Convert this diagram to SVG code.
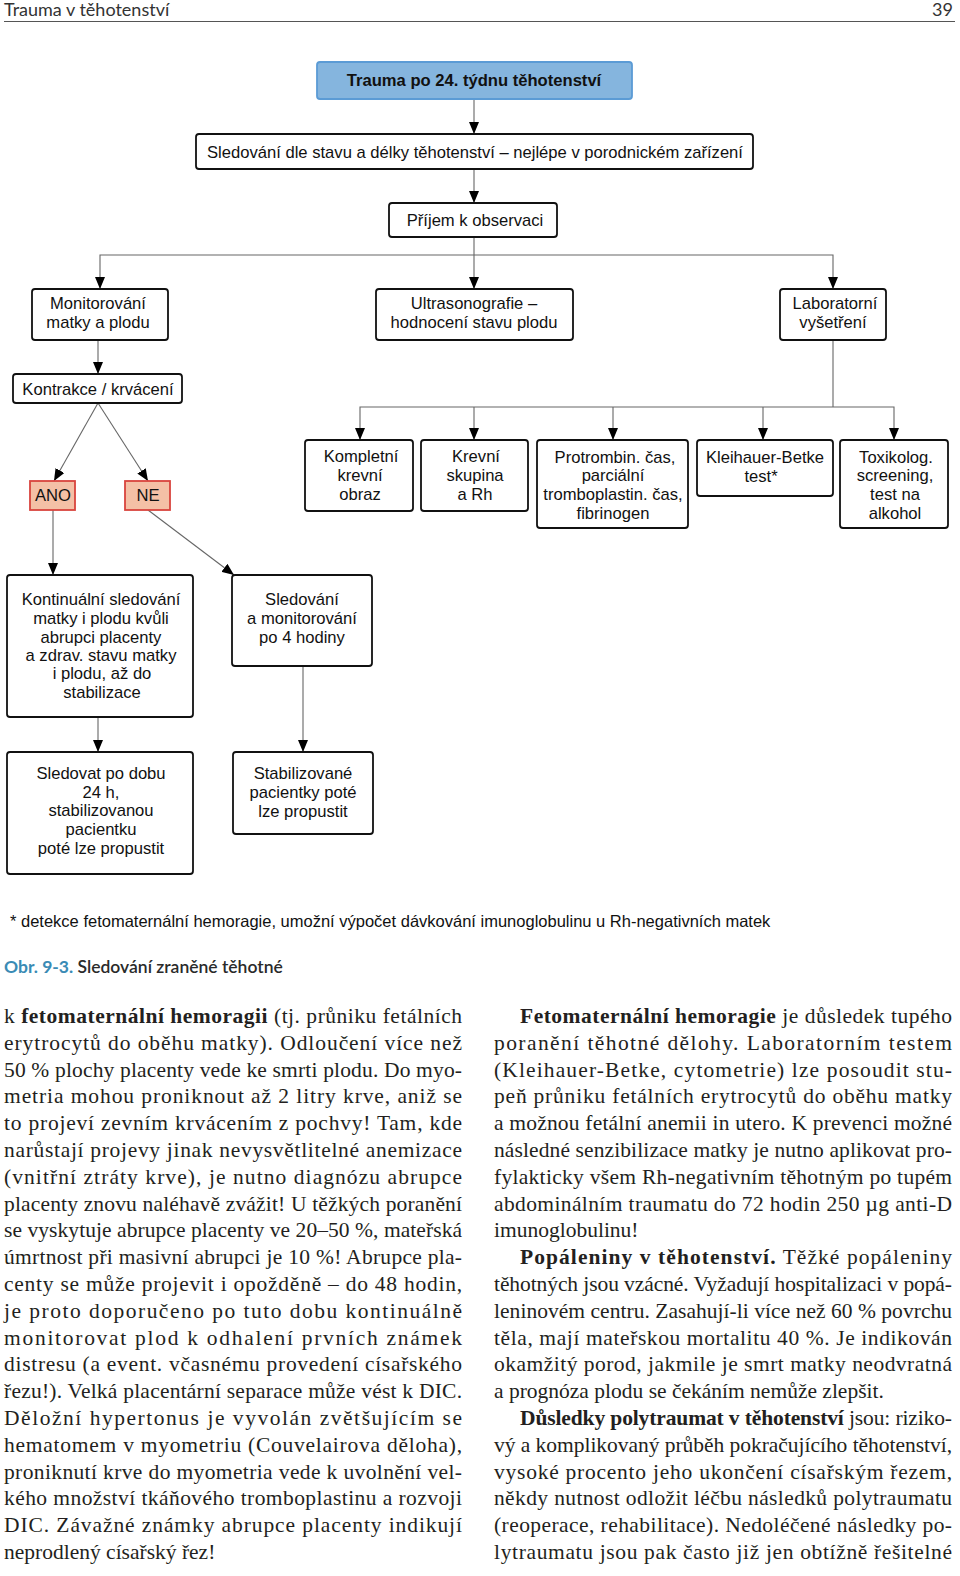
<svg xmlns="http://www.w3.org/2000/svg" width="960" height="1576" viewBox="0 0 960 1576">
<defs>
<marker id="arr" viewBox="0 0 12 10" refX="12" refY="5" markerWidth="12" markerHeight="10" markerUnits="userSpaceOnUse" orient="auto">
<path d="M0,0 L12,5 L0,10 z" fill="#000"/>
</marker>
<style>
.box{fill:#fff;stroke:#111;stroke-width:1.8}
.title{fill:#85b5de;stroke:#5b9bd5;stroke-width:1.8}
.red{fill:#f4c0a6;stroke:#d9443e;stroke-width:1.8}
.t{font-family:"Liberation Sans",Arial,sans-serif;font-size:16.6px;fill:#111;text-anchor:middle}
.tb{font-weight:bold}
.c{fill:none;stroke:#666;stroke-width:1.1}
.a{marker-end:url(#arr)}
.body{font-family:"Liberation Serif","Times New Roman",serif;font-size:21.5px;fill:#231f20}
.hd{font-family:Lato,"Open Sans",sans-serif;font-size:18px;fill:#333}
</style>
</defs>
<rect width="960" height="1576" fill="#fff"/>

<g id="header">
<text class="hd" x="4" y="16">Trauma v těhotenství</text>
<text class="hd" x="953" y="16" text-anchor="end">39</text>
<line x1="4" y1="21.5" x2="955" y2="21.5" stroke="#555" stroke-width="1"/>
</g>

<g id="connectors">
<line class="c a" x1="474" y1="99" x2="474" y2="134"/>
<line class="c a" x1="474" y1="169" x2="474" y2="203"/>
<line class="c a" x1="474" y1="237" x2="474" y2="289"/>
<polyline class="c a" points="474,255 100,255 100,289"/>
<polyline class="c a" points="474,255 833,255 833,289"/>
<line class="c a" x1="98" y1="340" x2="98" y2="374"/>
<line class="c a" x1="98" y1="403" x2="54" y2="481"/>
<line class="c a" x1="98" y1="403" x2="148" y2="481"/>
<line class="c" x1="833" y1="340" x2="833" y2="407"/>
<polyline class="c a" points="833,407 360,407 360,440"/>
<line class="c a" x1="474" y1="407" x2="474" y2="440"/>
<line class="c a" x1="613" y1="407" x2="613" y2="440"/>
<line class="c a" x1="763" y1="407" x2="763" y2="440"/>
<polyline class="c a" points="833,407 894,407 894,440"/>
<line class="c a" x1="53" y1="510" x2="53" y2="575"/>
<line class="c a" x1="148" y1="510" x2="234" y2="575"/>
<line class="c a" x1="98" y1="717" x2="98" y2="752"/>
<line class="c a" x1="303" y1="666" x2="303" y2="752"/>
</g>

<g id="n-trauma">
<rect class="title" x="317" y="62" width="315" height="37" rx="3"/>
<text class="t tb" x="474" y="86">Trauma po 24. týdnu těhotenství</text>
</g>
<g id="n-sledovani">
<rect class="box" x="196" y="134" width="557" height="35" rx="3"/>
<text class="t" x="475" y="158">Sledování dle stavu a délky těhotenství – nejlépe v porodnickém zařízení</text>
</g>
<g id="n-prijem">
<rect class="box" x="389" y="203" width="168" height="34" rx="3"/>
<text class="t" x="475" y="226">Příjem k observaci</text>
</g>
<g id="n-monitorovani">
<rect class="box" x="32" y="289" width="136" height="51" rx="3"/>
<text class="t" x="98" y="309">Monitorování</text>
<text class="t" x="98" y="328">matky a plodu</text>
</g>
<g id="n-ultrasono">
<rect class="box" x="376" y="289" width="197" height="51" rx="3"/>
<text class="t" x="474" y="309">Ultrasonografie –</text>
<text class="t" x="474" y="328">hodnocení stavu plodu</text>
</g>
<g id="n-lab">
<rect class="box" x="780" y="289" width="106" height="51" rx="3"/>
<text class="t" x="835" y="309">Laboratorní</text>
<text class="t" x="833" y="328">vyšetření</text>
</g>
<g id="n-kontrakce">
<rect class="box" x="13" y="374" width="169" height="29" rx="3"/>
<text class="t" x="98" y="395">Kontrakce / krvácení</text>
</g>
<g id="n-ano">
<rect class="red" x="30" y="481" width="45" height="29"/>
<text class="t" x="53" y="501">ANO</text>
</g>
<g id="n-ne">
<rect class="red" x="125" y="481" width="45" height="29"/>
<text class="t" x="148" y="501">NE</text>
</g>
<g id="n-kompletni">
<rect class="box" x="305" y="440" width="108" height="71" rx="3"/>
<text class="t" x="361" y="462">Kompletní</text>
<text class="t" x="360" y="481">krevní</text>
<text class="t" x="360" y="500">obraz</text>
</g>
<g id="n-krevni">
<rect class="box" x="421" y="440" width="107" height="71" rx="3"/>
<text class="t" x="476" y="462">Krevní</text>
<text class="t" x="475" y="481">skupina</text>
<text class="t" x="475" y="500">a Rh</text>
</g>
<g id="n-protrombin">
<rect class="box" x="537" y="440" width="151" height="88" rx="3"/>
<text class="t" x="615" y="463">Protrombin. čas,</text>
<text class="t" x="613" y="481">parciální</text>
<text class="t" x="613" y="500">tromboplastin. čas,</text>
<text class="t" x="613" y="519">fibrinogen</text>
</g>
<g id="n-kleihauer">
<rect class="box" x="697" y="440" width="136" height="56" rx="3"/>
<text class="t" x="765" y="463">Kleihauer-Betke</text>
<text class="t" x="761" y="482">test*</text>
</g>
<g id="n-toxikolog">
<rect class="box" x="840" y="440" width="108" height="88" rx="3"/>
<text class="t" x="896" y="463">Toxikolog.</text>
<text class="t" x="895" y="481">screening,</text>
<text class="t" x="895" y="500">test na</text>
<text class="t" x="895" y="519">alkohol</text>
</g>
<g id="n-kontinualni">
<rect class="box" x="7" y="575" width="186" height="142" rx="3"/>
<text class="t" x="101" y="605">Kontinuální sledování</text>
<text class="t" x="101" y="624">matky i plodu kvůli</text>
<text class="t" x="101" y="643">abrupci placenty</text>
<text class="t" x="101" y="661">a zdrav. stavu matky</text>
<text class="t" x="102" y="679">i plodu, až do</text>
<text class="t" x="102" y="698">stabilizace</text>
</g>
<g id="n-sled4">
<rect class="box" x="232" y="575" width="140" height="91" rx="3"/>
<text class="t" x="302" y="605">Sledování</text>
<text class="t" x="302" y="624">a monitorování</text>
<text class="t" x="302" y="643">po 4 hodiny</text>
</g>
<g id="n-sledovat24">
<rect class="box" x="7" y="752" width="186" height="122" rx="3"/>
<text class="t" x="101" y="779">Sledovat po dobu</text>
<text class="t" x="101" y="798">24 h,</text>
<text class="t" x="101" y="816">stabilizovanou</text>
<text class="t" x="101" y="835">pacientku</text>
<text class="t" x="101" y="854">poté lze propustit</text>
</g>
<g id="n-stabilizovane">
<rect class="box" x="233" y="752" width="140" height="82" rx="3"/>
<text class="t" x="303" y="779">Stabilizované</text>
<text class="t" x="303" y="798">pacientky poté</text>
<text class="t" x="303" y="817">lze propustit</text>
</g>

<g id="footnote">
<text font-family="Liberation Sans, Arial, sans-serif" font-size="16.5" fill="#111" x="10" y="927">* detekce fetomaternální hemoragie, umožní výpočet dávkování imunoglobulinu u Rh-negativních matek</text>
</g>
<g id="caption">
<text font-family="Lato, 'Open Sans', sans-serif" font-size="17.5" x="4" y="973"><tspan fill="#3a8bb5" font-weight="bold">Obr. 9-3.</tspan><tspan fill="#2a2a2a" font-weight="600"> Sledování zraněné těhotné</tspan></text>
</g>

<g id="text-left" class="body">
<text x="4" y="1023" textLength="458" lengthAdjust="spacing">k <tspan font-weight="bold">fetomaternální hemoragii</tspan> (tj. průniku fetálních</text>
<text x="4" y="1049.8" textLength="458" lengthAdjust="spacing">erytrocytů do oběhu matky). Odloučení více než</text>
<text x="4" y="1076.6" textLength="458" lengthAdjust="spacing">50 % plochy placenty vede ke smrti plodu. Do myo-</text>
<text x="4" y="1103.4" textLength="458" lengthAdjust="spacing">metria mohou proniknout až 2 litry krve, aniž se</text>
<text x="4" y="1130.2" textLength="458" lengthAdjust="spacing">to projeví zevním krvácením z pochvy! Tam, kde</text>
<text x="4" y="1157" textLength="458" lengthAdjust="spacing">narůstají projevy jinak nevysvětlitelné anemizace</text>
<text x="4" y="1183.8" textLength="458" lengthAdjust="spacing">(vnitřní ztráty krve), je nutno diagnózu abrupce</text>
<text x="4" y="1210.6" textLength="458" lengthAdjust="spacing">placenty znovu naléhavě zvážit! U těžkých poranění</text>
<text x="4" y="1237.4" textLength="458" lengthAdjust="spacing">se vyskytuje abrupce placenty ve 20–50 %, mateřská</text>
<text x="4" y="1264.2" textLength="458" lengthAdjust="spacing">úmrtnost při masivní abrupci je 10 %! Abrupce pla-</text>
<text x="4" y="1291" textLength="458" lengthAdjust="spacing">centy se může projevit i opožděně – do 48 hodin,</text>
<text x="4" y="1317.8" textLength="458" lengthAdjust="spacing">je proto doporučeno po tuto dobu kontinuálně</text>
<text x="4" y="1344.6" textLength="458" lengthAdjust="spacing">monitorovat plod k odhalení prvních známek</text>
<text x="4" y="1371.4" textLength="458" lengthAdjust="spacing">distresu (a event. včasnému provedení císařského</text>
<text x="4" y="1398.2" textLength="458" lengthAdjust="spacing">řezu!). Velká placentární separace může vést k DIC.</text>
<text x="4" y="1425" textLength="458" lengthAdjust="spacing">Děložní hypertonus je vyvolán zvětšujícím se</text>
<text x="4" y="1451.8" textLength="458" lengthAdjust="spacing">hematomem v myometriu (Couvelairova děloha),</text>
<text x="4" y="1478.6" textLength="458" lengthAdjust="spacing">proniknutí krve do myometria vede k uvolnění vel-</text>
<text x="4" y="1505.4" textLength="458" lengthAdjust="spacing">kého množství tkáňového tromboplastinu a rozvoji</text>
<text x="4" y="1532.2" textLength="458" lengthAdjust="spacing">DIC. Závažné známky abrupce placenty indikují</text>
<text x="4" y="1559">neprodlený císařský řez!</text>
</g>

<g id="text-right" class="body">
<text x="520" y="1023" textLength="432" lengthAdjust="spacing"><tspan font-weight="bold">Fetomaternální hemoragie</tspan> je důsledek tupého</text>
<text x="494" y="1049.8" textLength="458" lengthAdjust="spacing">poranění těhotné dělohy. Laboratorním testem</text>
<text x="494" y="1076.6" textLength="458" lengthAdjust="spacing">(Kleihauer-Betke, cytometrie) lze posoudit stu-</text>
<text x="494" y="1103.4" textLength="458" lengthAdjust="spacing">peň průniku fetálních erytrocytů do oběhu matky</text>
<text x="494" y="1130.2" textLength="458" lengthAdjust="spacing">a možnou fetální anemii in utero. K prevenci možné</text>
<text x="494" y="1157" textLength="458" lengthAdjust="spacing">následné senzibilizace matky je nutno aplikovat pro-</text>
<text x="494" y="1183.8" textLength="458" lengthAdjust="spacing">fylakticky všem Rh-negativním těhotným po tupém</text>
<text x="494" y="1210.6" textLength="458" lengthAdjust="spacing">abdominálním traumatu do 72 hodin 250 µg anti-D</text>
<text x="494" y="1237.4">imunoglobulinu!</text>
<text x="520" y="1264.2" textLength="432" lengthAdjust="spacing"><tspan font-weight="bold">Popáleniny v těhotenství.</tspan> Těžké popáleniny</text>
<text x="494" y="1291" textLength="458" lengthAdjust="spacing">těhotných jsou vzácné. Vyžadují hospitalizaci v popá-</text>
<text x="494" y="1317.8" textLength="458" lengthAdjust="spacing">leninovém centru. Zasahují-li více než 60 % povrchu</text>
<text x="494" y="1344.6" textLength="458" lengthAdjust="spacing">těla, mají mateřskou mortalitu 40 %. Je indikován</text>
<text x="494" y="1371.4" textLength="458" lengthAdjust="spacing">okamžitý porod, jakmile je smrt matky neodvratná</text>
<text x="494" y="1398.2">a prognóza plodu se čekáním nemůže zlepšit.</text>
<text x="520" y="1425" textLength="432" lengthAdjust="spacing"><tspan font-weight="bold">Důsledky polytraumat v těhotenství</tspan> jsou: riziko-</text>
<text x="494" y="1451.8" textLength="458" lengthAdjust="spacing">vý a komplikovaný průběh pokračujícího těhotenství,</text>
<text x="494" y="1478.6" textLength="458" lengthAdjust="spacing">vysoké procento jeho ukončení císařským řezem,</text>
<text x="494" y="1505.4" textLength="458" lengthAdjust="spacing">někdy nutnost odložit léčbu následků polytraumatu</text>
<text x="494" y="1532.2" textLength="458" lengthAdjust="spacing">(reoperace, rehabilitace). Nedoléčené následky po-</text>
<text x="494" y="1559" textLength="458" lengthAdjust="spacing">lytraumatu jsou pak často již jen obtížně řešitelné</text>
</g>
</svg>
